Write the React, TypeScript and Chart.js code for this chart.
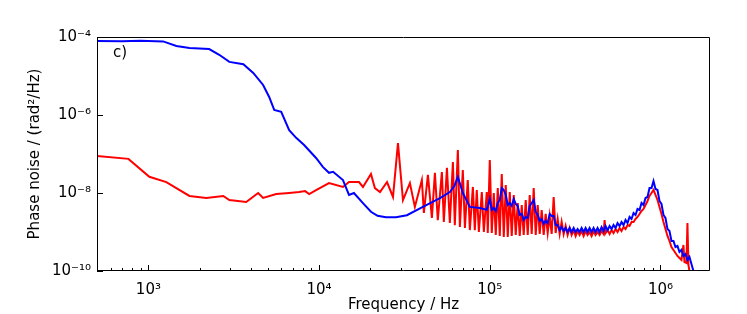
import React, { useEffect, useRef } from "react";
import { Chart, registerables } from "chart.js";
Chart.register(...registerables);

const blueFreq = [500, 700, 900, 1220, 1459, 1740, 2270, 2600, 2980, 3600, 4115, 4700, 5100, 5460, 6000, 6680, 7340, 8170, 9600, 10550, 11430, 12080, 13800, 14970, 16000, 18070, 20130, 22000, 24650, 28200, 32700, 40560, 51050, 58350, 62000, 65000, 69500, 76400, 87400, 96000,
  100000, 102730, 105530, 108410, 111370, 114410, 117530, 120740, 124030, 127420, 130900, 134470, 138140, 141910, 145780, 149760, 153850, 158050, 162360, 166810, 171350, 176030, 180830, 185770, 190840, 196050, 201400, 206900, 212540, 218340, 224300, 230420, 236710, 243170, 249800, 256620, 263620, 270820, 278200, 285800, 293600, 301600, 309900, 318300, 327000, 335900, 345100, 354500, 364200, 374100, 384300, 394800, 405600, 416600, 428000, 439700, 451700, 464200, 476800, 489800, 503200, 516900, 531000, 545500, 560400, 575700, 591400, 607600, 624100, 641200, 658700, 676700, 695200, 714100, 733600, 753700, 774300, 795400, 817100, 839400, 862300, 885900, 910100, 934900, 960400, 986600, 1013600, 1041200, 1069600, 1098900, 1128900, 1159700, 1191300, 1223900, 1257300, 1291500, 1326800, 1363000, 1400200, 1438400, 1477700, 1518000, 1559500];
const blueVal = [7.9e-5, 7.8e-5, 8.0e-5, 7.7e-5, 5.9e-5, 5.2e-5, 4.9e-5, 3.5e-5, 2.3e-5, 2.0e-5, 1.2e-5, 5.9e-6, 2.9e-6, 1.35e-6, 1.2e-6, 4.1e-7, 2.6e-7, 1.7e-7, 7.9e-8, 4.6e-8, 3.3e-8, 3.5e-8, 2.15e-8, 8.9e-9, 1.0e-8, 5.5e-9, 3.3e-9, 2.6e-9, 2.4e-9, 2.4e-9, 2.7e-9, 4.4e-9, 7.4e-9, 1.06e-8, 1.5e-8, 2.6e-8, 1.0e-8, 4.4e-9, 4.1e-9, 3.7e-9,
  7.02e-9, 3.67e-9, 4.13e-9, 3.46e-9, 5.54e-9, 6.62e-9, 1.344e-8, 1.194e-8, 8.89e-9, 4.93e-9, 5.54e-9, 4.64e-9, 7.02e-9, 5.23e-9, 4.64e-9, 2.73e-9, 2.9e-9, 2.03e-9, 2.43e-9, 2.29e-9, 4.64e-9, 5.54e-9, 6.62e-9, 3.26e-9, 2.73e-9, 1.92e-9, 2.16e-9, 1.61e-9, 1.92e-9, 1.7e-9, 2.9e-9, 2.58e-9, 2.58e-9, 1.51e-9, 1.51e-9, 1.12e-9, 1.34e-9, 1.06e-9, 1.27e-9, 1.0e-9, 1.27e-9, 1.0e-9, 1.27e-9, 1.0e-9, 1.19e-9, 1.0e-9, 1.27e-9, 1.0e-9, 1.27e-9, 1.0e-9, 1.27e-9, 1.0e-9, 1.27e-9, 1.0e-9, 1.27e-9, 1.0e-9, 1.34e-9, 1.06e-9, 1.43e-9, 1.12e-9, 1.43e-9, 1.19e-9, 1.51e-9, 1.27e-9, 1.7e-9, 1.43e-9, 1.81e-9, 1.51e-9, 2.03e-9, 1.7e-9, 2.43e-9, 2.16e-9, 3.07e-9, 2.73e-9, 3.89e-9, 3.67e-9, 5.54e-9, 4.93e-9, 7.45e-9, 7.9e-9, 1.344e-8, 1.344e-8, 2.03e-8, 1.267e-8, 1.194e-8, 6.24e-9, 5.23e-9, 2.73e-9, 2.29e-9, 1.19e-9, 1.06e-9, 5.88e-10, 5.88e-10, 4.13e-10, 4.38e-10, 3.07e-10, 3.46e-10, 2.43e-10, 2.73e-10, 1.92e-10, 2.29e-10, 1.51e-10, 1.0e-10];

const redFreq = [500, 764, 1013, 1274, 1740, 2183, 2746, 2980, 3743, 4397, 4700, 5611, 6680, 7640, 8280, 8750, 9600, 11430, 13800, 14970, 17140, 18070, 20130, 21230, 22750, 25000, 27100, 28980, 31000, 34040, 36400, 40000, 41100, 43400, 45800, 47700, 49600, 52400, 53800, 56100, 58350, 60800, 62400, 65000, 66800, 69500, 71500, 74300, 76400, 79600, 81700, 83900, 86300, 89800, 92300, 96000, 97300,
  100000, 102730, 105530, 108410, 111370, 114410, 117530, 120740, 124030, 127420, 130900, 134470, 138140, 141910, 145780, 149760, 153850, 158050, 162360, 166810, 171350, 176030, 180830, 185770, 190840, 196050, 201400, 206900, 212540, 218340, 224300, 230420, 236710, 243170, 249800, 256620, 263620, 270820, 278200, 285800, 293600, 301600, 309900, 318300, 327000, 335900, 345100, 354500, 364200, 374100, 384300, 394800, 405600, 416600, 428000, 439700, 451700, 464200, 470500, 476800, 489800, 503200, 516900, 531000, 545500, 560400, 575700, 591400, 607600, 624100, 641200, 658700, 676700, 695200, 714100, 733600, 753700, 774300, 795400, 817100, 839400, 862300, 885900, 910100, 934900, 960400, 986600, 1013600, 1041200, 1069600, 1098900, 1128900, 1159700, 1191300, 1223900, 1257300, 1291500, 1326800, 1363000, 1381400, 1419100, 1438400, 1457800, 1477700];
const redVal = [8.9e-8, 7.5e-8, 2.6e-8, 1.9e-8, 8.4e-9, 7.5e-9, 8.4e-9, 6.6e-9, 5.9e-9, 1.0e-8, 7.5e-9, 9.4e-9, 1.0e-8, 1.06e-8, 1.12e-8, 9.4e-9, 1.19e-8, 1.8e-8, 1.43e-8, 1.91e-8, 1.91e-8, 1.43e-8, 3.07e-8, 1.34e-8, 1.06e-8, 1.91e-8, 7.9e-9, 1.91e-7, 6.6e-9, 1.8e-8, 4.4e-9, 2.15e-8, 3.1e-9, 2.9e-8, 2.3e-9, 3.3e-8, 2.0e-9, 3.45e-8, 1.8e-9, 4.4e-8, 1.7e-9, 6.2e-8, 1.5e-9, 1.27e-7, 1.34e-9, 3.9e-8, 1.27e-9, 2.15e-8, 1.12e-9, 1.43e-8, 1.12e-9, 1.19e-8, 1.0e-9, 1.06e-8, 1.0e-9, 1.06e-8, 9.4e-10,
  7.02e-8, 9.43e-10, 1.0e-8, 8.38e-10, 1.344e-8, 7.9e-10, 3.07e-8, 7.45e-10, 1.604e-8, 7.45e-10, 1.061e-8, 7.9e-10, 8.89e-9, 8.38e-10, 5.54e-9, 7.9e-10, 4.93e-9, 8.38e-10, 6.62e-9, 8.38e-10, 8.89e-9, 8.89e-10, 1.344e-8, 8.38e-10, 4.93e-9, 8.89e-10, 3.67e-9, 8.38e-10, 2.9e-9, 9.43e-10, 2.58e-9, 8.89e-10, 7.9e-9, 9.43e-10, 2.16e-9, 8.89e-10, 1.81e-9, 8.89e-10, 1.43e-9, 8.38e-10, 1.27e-9, 8.38e-10, 1.12e-9, 7.9e-10, 1.06e-9, 8.38e-10, 1.06e-9, 7.9e-10, 1.06e-9, 8.38e-10, 1.0e-9, 7.9e-10, 1.06e-9, 8.38e-10, 1.0e-9, 8.38e-10, 1.06e-9, 8.89e-10, 2.03e-9, 9.43e-10, 1.12e-9, 8.89e-10, 1.12e-9, 9.43e-10, 1.19e-9, 1.0e-9, 1.27e-9, 1.06e-9, 1.34e-9, 1.19e-9, 1.51e-9, 1.43e-9, 1.81e-9, 1.81e-9, 2.16e-9, 2.43e-9, 2.9e-9, 3.46e-9, 3.89e-9, 4.93e-9, 6.24e-9, 8.38e-9, 1.0e-8, 1.194e-8, 8.89e-9, 6.62e-9, 4.38e-9, 2.9e-9, 1.81e-9, 1.19e-9, 7.9e-10, 5.88e-10, 4.13e-10, 3.46e-10, 2.9e-10, 2.43e-10, 2.16e-10, 1.92e-10, 4.64e-10, 1.7e-10, 1.61e-10, 1.7e-9, 1.43e-10, 1.0e-10];

const xTickValues = [1e3, 1e4, 1e5, 1e6];
const xTickLabels = ["10³", "10⁴", "10⁵", "10⁶"];
const yTickValues = [1e-10, 1e-8, 1e-6, 1e-4];
const yTickLabels = ["10⁻¹⁰", "10⁻⁸", "10⁻⁶", "10⁻⁴"];
const xMin = 500;
const xMax = 1.95e6;
const panelLabel = "c)";

const FONT = "'DejaVu Sans', sans-serif";

const framePlugin = {
  id: "frame",
  afterDatasetsDraw(chart: any) {
    const { ctx, chartArea } = chart;
    const { left, right, top, bottom } = chartArea;
    const xs = chart.scales.x;
    const ys = chart.scales.y;
    ctx.save();
    ctx.strokeStyle = "#000";
    ctx.lineWidth = 1;
    ctx.beginPath();
    ctx.rect(Math.round(left) + 0.5, Math.round(top) + 0.5, Math.round(right - left) - 1, Math.round(bottom - top) - 1);
    ctx.stroke();
    ctx.beginPath();
    for (let n = 2; n <= 6; n++) {
      for (let m = 1; m <= 9; m++) {
        const v = m * Math.pow(10, n);
        if (v < xs.min || v > xs.max) continue;
        const px = Math.round(xs.getPixelForValue(v)) + 0.5;
        const len = m === 1 ? 6 : 3;
        ctx.moveTo(px, bottom);
        ctx.lineTo(px, bottom - len);
      }
    }
    for (const v of yTickValues) {
      const py = Math.round(ys.getPixelForValue(v)) + 0.5;
      ctx.moveTo(left, py);
      ctx.lineTo(left + 6, py);
    }
    ctx.stroke();
    ctx.fillStyle = "#000";
    ctx.font = `15px ${FONT}`;
    ctx.textBaseline = "middle";
    ctx.textAlign = "left";
    ctx.fillText(panelLabel, left + 16, top + 16);
    ctx.restore();
  },
};

export default function App() {
  const ref = useRef<HTMLCanvasElement | null>(null);
  useEffect(() => {
    if (!ref.current) return;
    const chart = new Chart(ref.current, {
      type: "line",
      data: {
        datasets: [
          {
            label: "blue",
            data: blueFreq.map((f, i) => ({ x: f, y: blueVal[i] })),
            borderColor: "#0000ff",
            borderWidth: 2,
            pointRadius: 0,
            tension: 0,
            fill: false,
          },
          {
            label: "red",
            data: redFreq.map((f, i) => ({ x: f, y: redVal[i] })),
            borderColor: "#ff0000",
            borderWidth: 2,
            pointRadius: 0,
            tension: 0,
            fill: false,
          },
        ],
      },
      options: {
        animation: false,
        responsive: true,
        maintainAspectRatio: false,
        layout: { padding: { left: 0, top: 37, right: 37, bottom: 0 } },
        plugins: { legend: { display: false }, tooltip: { enabled: false } },
        scales: {
          x: {
            type: "logarithmic",
            min: xMin,
            max: xMax,
            grid: { display: false, drawTicks: false },
            border: { display: false },
            afterBuildTicks: (s: any) => {
              s.ticks = xTickValues.map((v) => ({ value: v }));
            },
            afterFit: (s: any) => {
              s.height = 43;
            },
            ticks: {
              autoSkip: false,
              maxRotation: 0,
              color: "#000",
              padding: 10,
              font: { family: FONT, size: 15 },
              callback: (v: any) => {
                const i = xTickValues.indexOf(Number(v));
                return i >= 0 ? xTickLabels[i] : "";
              },
            },
            title: {
              display: true,
              text: "Frequency / Hz",
              color: "#000",
              font: { family: FONT, size: 15 },
              padding: { top: 0, bottom: 0 },
            },
          },
          y: {
            type: "logarithmic",
            min: 1e-10,
            max: 1e-4,
            grid: { display: false, drawTicks: false },
            border: { display: false },
            afterBuildTicks: (s: any) => {
              s.ticks = yTickValues.map((v) => ({ value: v }));
            },
            afterFit: (s: any) => {
              s.width = 97;
            },
            ticks: {
              autoSkip: false,
              color: "#000",
              padding: 6,
              font: { family: FONT, size: 15 },
              callback: (v: any) => {
                const i = yTickValues.findIndex((t) => Math.abs(Math.log10(t) - Math.log10(Number(v))) < 1e-6);
                return i >= 0 ? yTickLabels[i] : "";
              },
            },
            title: {
              display: true,
              text: "Phase noise / (rad²/Hz)",
              color: "#000",
              font: { family: FONT, size: 15 },
              padding: { top: 26, bottom: 26 },
            },
          },
        },
      },
      plugins: [framePlugin],
    });
    return () => chart.destroy();
  }, []);
  return (
    <div style={{ position: "fixed", left: 0, top: 0, width: 747, height: 314, background: "#fff" }}>
      <canvas ref={ref} />
    </div>
  );
}
